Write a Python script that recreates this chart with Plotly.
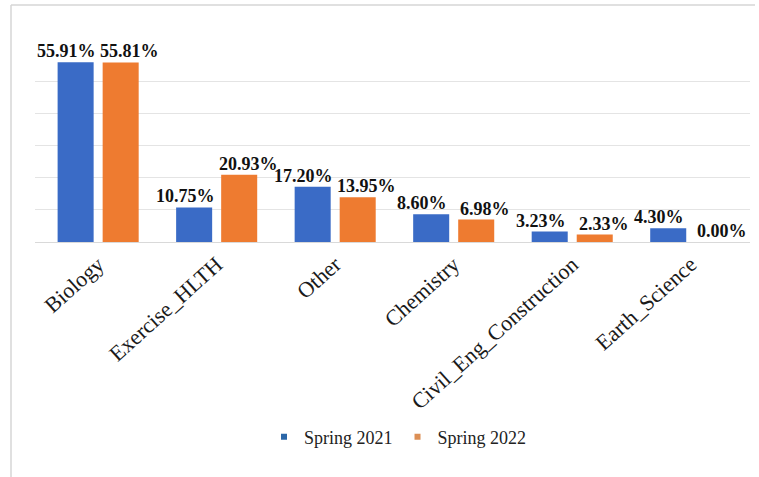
import plotly.graph_objects as go

# Share of students by field, two spring terms
categories = ["Biology", "Exercise_HLTH", "Other", "Chemistry",
              "Civil_Eng_Construction", "Earth_Science"]
spring_2021 = [55.91, 10.75, 17.20, 8.60, 3.23, 4.30]
spring_2022 = [55.81, 20.93, 13.95, 6.98, 2.33, 0.00]
series_names = ["Spring 2021", "Spring 2022"]

BLUE = "#3a6bc6"
ORANGE = "#ee7b30"
SERIF = "Liberation Serif, Times New Roman, serif"

W, H = 759, 477
ML, MR, MT, MB = 35, 9, 49, 235
PW, PH = W - ML - MR, H - MT - MB
BARGAP, GROUPGAP = 0.24, 0.2


def px_to_paper_x(px):
    return (px - ML) / PW


def px_to_paper_y(py):
    return (H - MB - py) / PH


fig = go.Figure()
for name, vals, col in [(series_names[0], spring_2021, BLUE),
                        (series_names[1], spring_2022, ORANGE)]:
    fig.add_trace(go.Bar(
        x=categories, y=vals, name=name, showlegend=False,
        marker=dict(color=col, line=dict(width=0)),
        hoverinfo="skip",
    ))

# value labels above each bar, nudged outward so neighbours don't collide
slot_px = PW / len(categories) * (1 - BARGAP) / 2
for vals, sign in [(spring_2021, -1), (spring_2022, 1)]:
    for cat, v in zip(categories, vals):
        fig.add_annotation(
            x=cat, y=v, xref="x", yref="y",
            text=f"{v:.2f}%", showarrow=False,
            xanchor="center", yanchor="bottom",
            xshift=sign * (slot_px / 2 + 9), yshift=-1,
            font=dict(family=SERIF, size=18, color="#111111", weight="bold"),
        )

# small square legend keys
for name, col in [(series_names[0], "#2b67a8"), (series_names[1], "#dc8f55")]:
    fig.add_trace(go.Scatter(
        x=[None], y=[None], mode="markers", name=name,
        marker=dict(symbol="square", size=6, color=col),
    ))

# thin frame on the top and left edges of the chart area
frame = dict(type="line", xref="paper", yref="paper",
             line=dict(color="#d6d6d6", width=1.5))
fig.add_shape(**frame, x0=px_to_paper_x(11), x1=px_to_paper_x(755),
              y0=px_to_paper_y(5), y1=px_to_paper_y(5))
fig.add_shape(**frame, x0=px_to_paper_x(11), x1=px_to_paper_x(11),
              y0=px_to_paper_y(5), y1=px_to_paper_y(H))

fig.update_layout(
    width=W, height=H,
    margin=dict(l=ML, r=MR, t=MT, b=MB, pad=0),
    paper_bgcolor="white", plot_bgcolor="white",
    barmode="group", bargap=BARGAP, bargroupgap=GROUPGAP,
    font=dict(family=SERIF, color="#222222"),
    legend=dict(orientation="h", x=px_to_paper_x(398), xanchor="center",
                y=px_to_paper_y(437), yanchor="middle",
                font=dict(family=SERIF, size=18, color="#222222"),
                itemwidth=30, tracegroupgap=0, bgcolor="rgba(0,0,0,0)"),
    xaxis=dict(tickangle=-42, tickfont=dict(family=SERIF, size=22, color="#1a1a1a"),
               showline=True, linecolor="#d9d9d9", linewidth=1,
               ticks="", showgrid=False),
    yaxis=dict(range=[0, 60], dtick=10, showticklabels=False,
               showgrid=True, gridcolor="#e4e4e4", gridwidth=1,
               zeroline=False, showline=False, ticks=""),
)

fig.write_html("out.html")
